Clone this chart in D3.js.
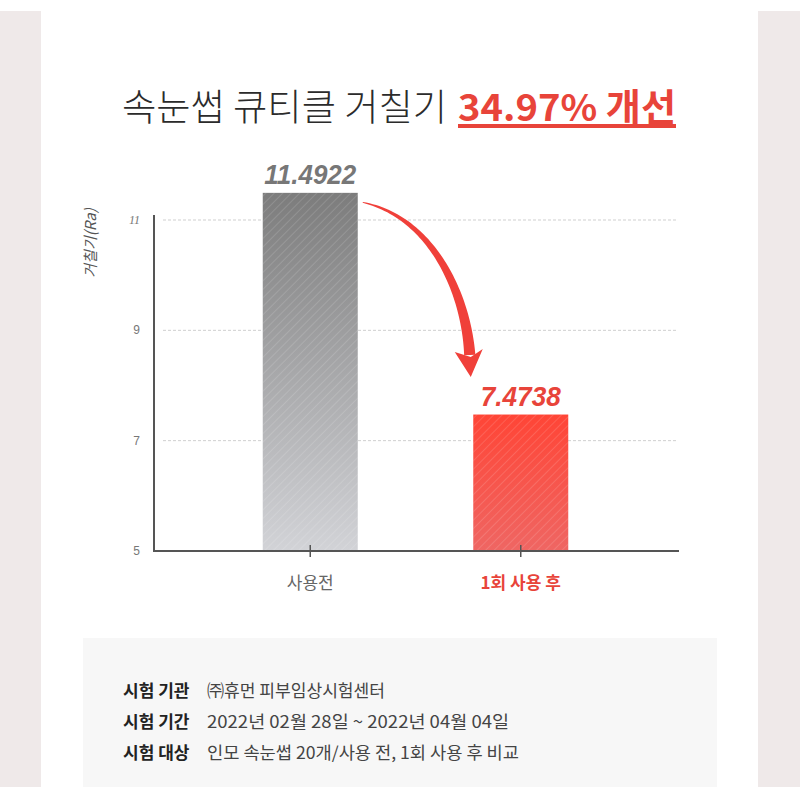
<!DOCTYPE html>
<html><head><meta charset="utf-8">
<script src="https://cdn.jsdelivr.net/npm/d3@7"></script>
<style>html,body{margin:0;padding:0;background:#fff;}svg{display:block;}</style>
</head><body>
<svg id="chart" width="800" height="800"></svg>
<script>
const categories = ["사용전", "1회 사용 후"];
const values = [11.4922, 7.4738];
const valueLabels = ["11.4922", "7.4738"];
const yTicks = [5, 7, 9, 11];
const titleMain = "속눈썹 큐티클 거칠기";
const titleHighlight = "34.97% 개선";
const yAxisTitle = "거칠기(Ra)";
const infoLabels = ["시험 기관", "시험 기간", "시험 대상"];
const infoValues = ["㈜휴먼 피부임상시험센터", "2022년 02월 28일 ~ 2022년 04월 04일", "인모 속눈썹 20개/사용 전, 1회 사용 후 비교"];

const svg = d3.select("#chart");
const KR = "'Noto Sans CJK KR','Noto Sans',sans-serif";
const RED = "#e8443a";

// background panels
svg.append("rect").attr("x",0).attr("y",0).attr("width",800).attr("height",800).attr("fill","#fff");
svg.append("rect").attr("x",0).attr("y",11).attr("width",41).attr("height",776).attr("fill","#efe9e9");
svg.append("rect").attr("x",758).attr("y",11).attr("width",42).attr("height",776).attr("fill","#efe9e9");

const defs = svg.append("defs");
const gGrey = defs.append("linearGradient").attr("id","gGrey").attr("x1",0).attr("y1",0).attr("x2",0).attr("y2",1);
gGrey.append("stop").attr("offset","0%").attr("stop-color","#7c7c7c");
gGrey.append("stop").attr("offset","100%").attr("stop-color","#d2d3d7");
const gRed = defs.append("linearGradient").attr("id","gRed").attr("x1",0).attr("y1",0).attr("x2",0).attr("y2",1);
gRed.append("stop").attr("offset","0%").attr("stop-color","#ff4536");
gRed.append("stop").attr("offset","100%").attr("stop-color","#ef6663");
const hatch = defs.append("pattern").attr("id","hatch").attr("patternUnits","userSpaceOnUse")
  .attr("width",6).attr("height",6).attr("patternTransform","rotate(45)");
hatch.append("line").attr("x1",0).attr("y1",0).attr("x2",0).attr("y2",6)
  .attr("stroke","#ffffff").attr("stroke-opacity",0.22).attr("stroke-width",1.2);

// title
svg.append("text").attr("x",122).attr("y",121).attr("textLength",325).attr("lengthAdjust","spacingAndGlyphs")
  .attr("font-family",KR).attr("font-weight",300).attr("font-size",37).attr("fill","#2b2b2b").text(titleMain);
svg.append("text").attr("x",458).attr("y",121).attr("textLength",218).attr("lengthAdjust","spacingAndGlyphs")
  .attr("font-family",KR).attr("font-weight",700).attr("font-size",37).attr("fill",RED).text(titleHighlight);
svg.append("rect").attr("x",458).attr("y",124).attr("width",218).attr("height",4).attr("fill",RED);

// scales
const x = d3.scaleBand().domain(categories).range([205, 626]);
const y = d3.scaleLinear().domain([5, 11]).range([551, 220]);
const bw = 95;
const cx = d => x(d) + x.bandwidth()/2;

// grid
svg.append("g").selectAll("line").data(yTicks.filter(t => t > 5)).join("line")
  .attr("x1",163).attr("x2",676).attr("y1",d=>y(d)).attr("y2",d=>y(d))
  .attr("stroke","#cfcfcf").attr("stroke-width",1).attr("stroke-dasharray","3,2");

// y tick labels
svg.append("g").selectAll("text").data(yTicks).join("text")
  .attr("x",140).attr("y",d=>y(d)+4).attr("text-anchor","end")
  .attr("font-family", d => d===11 ? "'Liberation Serif',serif" : "'Liberation Sans',sans-serif")
  .attr("font-style", d => d===11 ? "italic" : "normal")
  .attr("font-size",12).attr("fill","#777").text(d=>d);

// y axis title
svg.append("text").attr("transform","translate(96,243) rotate(-90)").attr("text-anchor","middle")
  .attr("font-family",KR).attr("font-style","italic").attr("font-size",15).attr("fill","#555").text(yAxisTitle);

// bars
const fills = ["url(#gGrey)","url(#gRed)"];
const bars = svg.append("g");
categories.forEach((c,i) => {
  const bx = cx(c) - bw/2;
  bars.append("rect").attr("x",bx).attr("y",y(values[i])).attr("width",bw).attr("height",y(5)-y(values[i])).attr("fill",fills[i]);
  bars.append("rect").attr("x",bx).attr("y",y(values[i])).attr("width",bw).attr("height",y(5)-y(values[i])).attr("fill","url(#hatch)");
});

// value labels
const labelColors = ["#777777", RED];
const labelWidths = [92, 80];
svg.append("g").selectAll("text").data(categories).join("text")
  .attr("x",(d,i)=>cx(d)-labelWidths[i]/2).attr("y",(d,i)=>y(values[i])-9)
  .attr("textLength",(d,i)=>labelWidths[i]).attr("lengthAdjust","spacingAndGlyphs")
  .attr("font-family","'Liberation Sans',Arial,sans-serif").attr("font-weight",700).attr("font-style","italic")
  .attr("font-size",27).attr("fill",(d,i)=>labelColors[i]).text((d,i)=>valueLabels[i]);

// axes
svg.append("line").attr("x1",154).attr("x2",154).attr("y1",215).attr("y2",552).attr("stroke","#555").attr("stroke-width",2);
svg.append("line").attr("x1",153).attr("x2",679).attr("y1",551).attr("y2",551).attr("stroke","#555").attr("stroke-width",2);
svg.append("g").selectAll("line").data(categories).join("line")
  .attr("x1",d=>cx(d)).attr("x2",d=>cx(d)).attr("y1",545).attr("y2",557).attr("stroke","#555").attr("stroke-width",1.5);

// x labels
svg.append("g").selectAll("text").data(categories).join("text")
  .attr("x",d=>cx(d)).attr("y",589).attr("text-anchor","middle").attr("font-family",KR)
  .attr("font-size",17).attr("font-weight",(d,i)=>i===1?700:400)
  .attr("fill",(d,i)=>i===1?RED:"#666").text(d=>d);

// curved arrow (tapered)
const p0 = [cx(categories[0]) + bw/2 + 5, y(11.3) - 1];
const p3 = [cx(categories[1]) - 51, 355];
const p1 = [p0[0] + 67, p0[1] + 14];
const p2 = [p3[0] - 4, p3[1] - 65];
function bez(t){
  const u = 1-t;
  return [u*u*u*p0[0]+3*u*u*t*p1[0]+3*u*t*t*p2[0]+t*t*t*p3[0],
          u*u*u*p0[1]+3*u*u*t*p1[1]+3*u*t*t*p2[1]+t*t*t*p3[1]];
}
const N = 60, left = [], right = [];
for (let k=0;k<=N;k++){
  const t = k/N, a = bez(Math.max(0,t-0.01)), b = bez(Math.min(1,t+0.01)), p = bez(t);
  let dx=b[0]-a[0], dy=b[1]-a[1]; const L=Math.hypot(dx,dy); dx/=L; dy/=L;
  const w = 0.4 + 5.2*Math.pow(t,0.8);
  left.push([p[0]-dy*w, p[1]+dx*w]); right.push([p[0]+dy*w, p[1]-dx*w]);
}
const shaft = left.concat(right.reverse());
svg.append("path").attr("d", d3.line()(shaft) + "Z").attr("fill", "#f0403a");
const head = [[p3[0]-15, p3[1]-3],[p3[0]+1, p3[1]+2],[p3[0]+13, p3[1]-6],[p3[0]+1, p3[1]+22]];
svg.append("path").attr("d", d3.line()(head)+"Z").attr("fill","#f0403a");

// info box
svg.append("rect").attr("x",83).attr("y",638).attr("width",634).attr("height",149).attr("fill","#f7f7f7");
const infoWidths = [178, 302, 312];
const rows = svg.append("g");
infoLabels.forEach((l,i)=>{
  rows.append("text").attr("x",123).attr("y",697+i*31).attr("font-family",KR).attr("font-weight",700)
    .attr("font-size",17).attr("fill","#222").text(l);
  rows.append("text").attr("x",207).attr("y",697+i*31).attr("font-family",KR).attr("font-weight",400)
    .attr("textLength",infoWidths[i]).attr("lengthAdjust","spacingAndGlyphs")
    .attr("font-size",17).attr("fill","#444").text(infoValues[i]);
});
</script>
</body></html>
